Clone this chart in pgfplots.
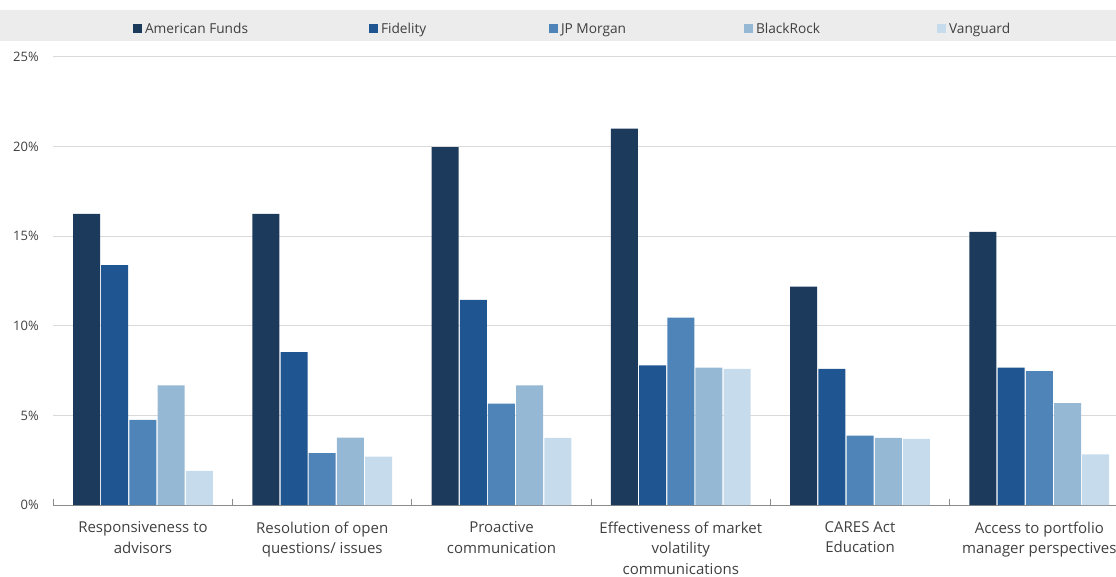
\documentclass[border=0pt]{standalone}
\usepackage{fontspec}
\setmainfont{Open Sans}
\usepackage{pgfplots}
\pgfplotsset{compat=1.18}
\definecolor{cAF}{HTML}{1B3A5C}
\definecolor{cFI}{HTML}{1F5591}
\definecolor{cJP}{HTML}{4F84B8}
\definecolor{cBR}{HTML}{95B9D5}
\definecolor{cVA}{HTML}{C6DCEC}
\definecolor{txt}{HTML}{404040}
\definecolor{gridc}{HTML}{D9D9D9}
\definecolor{axc}{HTML}{8C8C8C}
\definecolor{band}{HTML}{ECECEC}
\begin{document}
\begin{tikzpicture}
\fill[band] (-53.3pt,464pt) rectangle (1062.7pt,495pt);
\begin{axis}[
  scale only axis, width=1075.7pt, height=448pt,
  xmin=-0.5, xmax=5.5, ymin=0, ymax=25,
  ybar=1.2pt, bar width=27pt,
  axis x line*=bottom, axis y line*=left,
  y axis line style={draw=none},
  x axis line style={draw=axc, line width=1pt, -},
  ytick={0,5,...,25},
  yticklabel={\pgfmathprintnumber{\tick}\%},
  ytick style={draw=none},
  ymajorgrids, grid style={draw=gridc, line width=1pt},
  xtick={0,...,5},
  major x tick style={draw=none},
  minor xtick={-0.5,0.5,...,5.5},
  minor x tick style={draw=axc, line width=0.8pt},
  minor tick length=6pt, tick align=inside,
  xticklabels={{Responsiveness to\\advisors},{Resolution of open\\questions/ issues},{Proactive\\communication},{Effectiveness of market\\volatility\\communications},{CARES Act\\Education},{Access to portfolio\\manager perspectives}},
  xticklabel style={align=center, font=\fontsize{15}{20.5}\selectfont, text=txt, yshift=-13pt},
  yticklabel style={font=\fontsize{13}{16}\selectfont, text=txt, xshift=-11pt},
  /pgf/number format/assume math mode=true,
  legend columns=5,
  legend image code/.code={\fill (0pt,-4.5pt) rectangle (9pt,4.5pt);},
  legend style={at={(axis description cs:0.0741,1.0625)}, anchor=west, draw=none, fill=none,
    inner sep=0pt, outer sep=0pt,
    font=\fontsize{13.7}{16}\selectfont, text=txt,
    nodes={inner sep=0pt, anchor=west},
    /tikz/every even column/.append style={column sep=0pt}},
  every axis plot/.append style={draw=none},
]
\addplot[fill=cAF] coordinates {(0,16.25) (1,16.25) (2,19.97) (3,21.0) (4,12.19) (5,15.24)};
\addplot[fill=cFI] coordinates {(0,13.38) (1,8.53) (2,11.44) (3,7.79) (4,7.60) (5,7.66)};
\addplot[fill=cJP] coordinates {(0,4.75) (1,2.89) (2,5.66) (3,10.45) (4,3.87) (5,7.47)};
\addplot[fill=cBR] coordinates {(0,6.67) (1,3.76) (2,6.67) (3,7.66) (4,3.75) (5,5.68)};
\addplot[fill=cVA] coordinates {(0,1.90) (1,2.70) (2,3.75) (3,7.60) (4,3.69) (5,2.83)};
\legend{\makebox[227pt][l]{\hspace*{3pt}American Funds},\makebox[171pt][l]{\hspace*{3pt}Fidelity},\makebox[186pt][l]{\hspace*{3pt}JP Morgan},\makebox[184pt][l]{\hspace*{3pt}BlackRock},\hspace*{3pt}Vanguard}
\end{axis}
\pgfresetboundingbox
\path[use as bounding box] (-53.3pt,-71pt) rectangle (1062.7pt,505pt);
\end{tikzpicture}
\end{document}
